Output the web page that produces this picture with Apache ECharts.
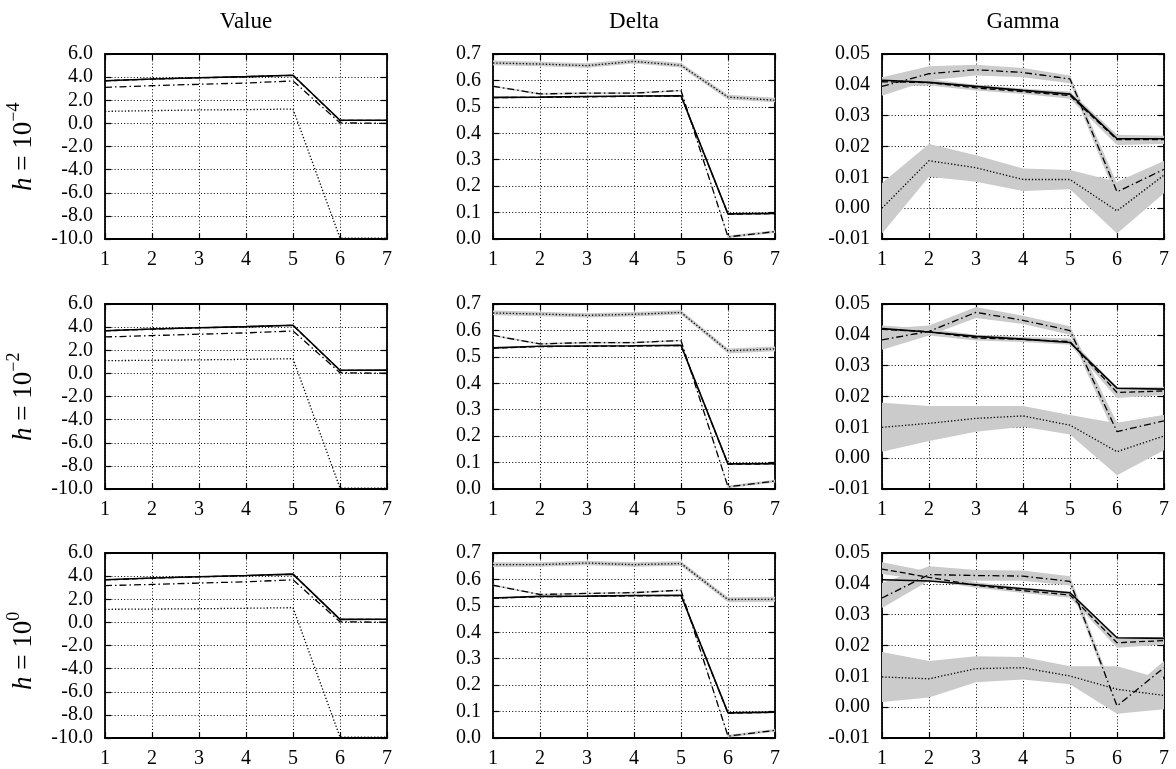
<!DOCTYPE html>
<html><head><meta charset="utf-8">
<script src="https://cdn.jsdelivr.net/npm/echarts@6/dist/echarts.min.js"></script>
<style>html,body{margin:0;padding:0;background:#fff}#c{width:1176px;height:769px}</style>
</head><body><div id="c"></div><script>
// ---------- DATA ----------
const xValues = [1, 2, 3, 4, 5, 6, 7];
const xTickLabels = ['1', '2', '3', '4', '5', '6', '7'];
const colTitles = ['Value', 'Delta', 'Gamma'];
const rowExponents = ['\u22124', '\u22122', '0'];

// Value
const valueSolid = [
  [3.69, 3.84, 3.95, 4.04, 4.16, 0.27, 0.27],
  [3.69, 3.84, 3.95, 4.04, 4.16, 0.27, 0.28],
  [3.68, 3.84, 3.95, 4.05, 4.17, 0.26, 0.27]
];
const valueDashed = [
  [3.68, 3.83, 3.94, 4.03, 4.15, 0.25, 0.26],
  [3.68, 3.83, 3.94, 4.03, 4.15, 0.25, 0.26],
  [3.67, 3.83, 3.94, 4.04, 4.16, 0.25, 0.26]
];
const valueDashDot = [
  [3.12, 3.26, 3.38, 3.49, 3.67, 0.05, 0.00],
  [3.15, 3.27, 3.39, 3.50, 3.67, 0.06, 0.01],
  [3.18, 3.28, 3.40, 3.51, 3.68, 0.05, 0.02]
];
const valueDotted = [
  [1.04, 1.10, 1.16, 1.19, 1.24, -9.92, -9.92],
  [1.10, 1.13, 1.17, 1.21, 1.27, -9.92, -9.92],
  [1.13, 1.15, 1.18, 1.22, 1.27, -9.92, -9.92]
];

// Delta
const deltaSolid = [
  [0.536, 0.537, 0.539, 0.541, 0.542, 0.095, 0.097],
  [0.534, 0.540, 0.541, 0.542, 0.544, 0.095, 0.096],
  [0.530, 0.536, 0.537, 0.539, 0.540, 0.095, 0.098]
];
const deltaDashed = [
  [0.535, 0.536, 0.538, 0.540, 0.541, 0.094, 0.096],
  [0.533, 0.539, 0.540, 0.541, 0.543, 0.094, 0.095],
  [0.529, 0.535, 0.536, 0.538, 0.539, 0.094, 0.097]
];
const deltaDashDot = [
  [0.578, 0.549, 0.552, 0.552, 0.562, 0.008, 0.028],
  [0.581, 0.549, 0.554, 0.554, 0.562, 0.008, 0.030],
  [0.578, 0.543, 0.547, 0.550, 0.559, 0.007, 0.029]
];
const deltaDashDotLo = [
  [0.575, 0.546, 0.549, 0.549, 0.559, 0.003, 0.023],
  [0.578, 0.546, 0.551, 0.551, 0.559, 0.003, 0.025],
  [0.575, 0.540, 0.544, 0.547, 0.556, 0.002, 0.024]
];
const deltaDashDotHi = [
  [0.581, 0.552, 0.555, 0.555, 0.565, 0.013, 0.033],
  [0.584, 0.552, 0.557, 0.557, 0.565, 0.013, 0.035],
  [0.581, 0.546, 0.550, 0.553, 0.562, 0.012, 0.034]
];
const deltaDotted = [
  [0.666, 0.662, 0.656, 0.672, 0.657, 0.537, 0.525],
  [0.666, 0.662, 0.657, 0.661, 0.668, 0.523, 0.530],
  [0.656, 0.656, 0.662, 0.656, 0.660, 0.524, 0.525]
];
const deltaDottedLo = [
  [0.657, 0.654, 0.648, 0.664, 0.649, 0.528, 0.517],
  [0.657, 0.654, 0.649, 0.653, 0.660, 0.513, 0.521],
  [0.647, 0.648, 0.654, 0.648, 0.652, 0.514, 0.516]
];
const deltaDottedHi = [
  [0.675, 0.671, 0.665, 0.681, 0.666, 0.546, 0.534],
  [0.675, 0.671, 0.665, 0.670, 0.676, 0.532, 0.539],
  [0.665, 0.665, 0.671, 0.665, 0.669, 0.533, 0.534]
];

// Gamma
const gammaSolid = [
  [0.0415, 0.0408, 0.0395, 0.0382, 0.0370, 0.0225, 0.0225],
  [0.0420, 0.0409, 0.0395, 0.0386, 0.0375, 0.0227, 0.0224],
  [0.0413, 0.0409, 0.0397, 0.0384, 0.0371, 0.0225, 0.0223]
];
const gammaDashed = [
  [0.0410, 0.0407, 0.0390, 0.0378, 0.0365, 0.0222, 0.0222],
  [0.0418, 0.0410, 0.0390, 0.0385, 0.0378, 0.0213, 0.0218],
  [0.0448, 0.0421, 0.0395, 0.0378, 0.0364, 0.0209, 0.0216]
];
const gammaDashedLo = [
  [0.0395, 0.0398, 0.0382, 0.0370, 0.0355, 0.0205, 0.0208],
  [0.0405, 0.0398, 0.0382, 0.0377, 0.0368, 0.0195, 0.0205],
  [0.0432, 0.0410, 0.0387, 0.0370, 0.0355, 0.0193, 0.0203]
];
const gammaDashedHi = [
  [0.0425, 0.0418, 0.0400, 0.0388, 0.0378, 0.0238, 0.0235],
  [0.0430, 0.0420, 0.0400, 0.0393, 0.0388, 0.0230, 0.0232],
  [0.0470, 0.0440, 0.0405, 0.0388, 0.0375, 0.0225, 0.0228]
];
const gammaDashDot = [
  [0.0395, 0.0436, 0.0449, 0.0440, 0.0419, 0.0053, 0.0126],
  [0.0384, 0.0411, 0.0473, 0.0447, 0.0414, 0.0086, 0.0121],
  [0.0354, 0.0430, 0.0427, 0.0425, 0.0408, 0.0004, 0.0128]
];
const gammaDashDotLo = [
  [0.0365, 0.0415, 0.0430, 0.0425, 0.0405, 0.0030, 0.0110],
  [0.0352, 0.0398, 0.0455, 0.0435, 0.0400, 0.0060, 0.0100],
  [0.0322, 0.0410, 0.0410, 0.0410, 0.0395, -0.0010, 0.0100]
];
const gammaDashDotHi = [
  [0.0425, 0.0460, 0.0465, 0.0455, 0.0430, 0.0080, 0.0145],
  [0.0420, 0.0430, 0.0490, 0.0462, 0.0428, 0.0115, 0.0140],
  [0.0403, 0.0457, 0.0445, 0.0443, 0.0425, 0.0020, 0.0150]
];
const gammaDotted = [
  [0.0000, 0.0154, 0.0131, 0.0093, 0.0093, -0.0009, 0.0107],
  [0.0100, 0.0113, 0.0129, 0.0137, 0.0107, 0.0021, 0.0072],
  [0.0098, 0.0092, 0.0125, 0.0128, 0.0101, 0.0058, 0.0038]
];
const gammaDottedLo = [
  [-0.0082, 0.0102, 0.0086, 0.0056, 0.0061, -0.0082, 0.0048],
  [0.0021, 0.0056, 0.0086, 0.0102, 0.0077, -0.0055, 0.0026],
  [0.0017, 0.0031, 0.0081, 0.0090, 0.0074, -0.0021, -0.0007]
];
const gammaDottedHi = [
  [0.0082, 0.0208, 0.0172, 0.0129, 0.0124, 0.0086, 0.0153],
  [0.0180, 0.0169, 0.0169, 0.0169, 0.0140, 0.0113, 0.0140],
  [0.0179, 0.0150, 0.0165, 0.0163, 0.0133, 0.0133, 0.0090]
];

const valueTicks = { min: -10, max: 6, interval: 2, decimals: 1 };
const deltaTicks = { min: 0, max: 0.7, interval: 0.1, decimals: 1 };
const gammaTicks = { min: -0.01, max: 0.05, interval: 0.01, decimals: 2 };

// ---------- LAYOUT / STYLE ----------
const FONT = "'Liberation Serif', 'Times New Roman', serif";
const BAND = '#cbcbcb';
const gridLefts = [105, 493, 882];
const gridTops = [54, 304, 553];
const gridW = 282, gridH = 185;

const metrics = [
  { ticks: valueTicks, solid: valueSolid, dashed: valueDashed, dashdot: valueDashDot, dotted: valueDotted, bands: [] },
  { ticks: deltaTicks, solid: deltaSolid, dashed: deltaDashed, dashdot: deltaDashDot, dotted: deltaDotted,
    bands: [[deltaDashDotLo, deltaDashDotHi], [deltaDottedLo, deltaDottedHi]] },
  { ticks: gammaTicks, solid: gammaSolid, dashed: gammaDashed, dashdot: gammaDashDot, dotted: gammaDotted,
    bands: [[gammaDashedLo, gammaDashedHi], [gammaDashDotLo, gammaDashDotHi], [gammaDottedLo, gammaDottedHi]] }
];

const grids = [], xAxes = [], yAxes = [], series = [], graphics = [];
const axisLine = { show: true, onZero: false, lineStyle: { color: '#000', width: 1.8 } };
const tick = { show: true, inside: true, length: 6, lineStyle: { color: '#000', width: 1.2 } };
const split = { show: true, lineStyle: { color: '#000', width: 1, type: [1, 2.2] } };

for (let r = 0; r < 3; r++) {
  for (let c = 0; c < 3; c++) {
    const idx = r * 3 + c;
    const m = metrics[c];
    grids.push({ left: gridLefts[c], top: gridTops[r], width: gridW, height: gridH, containLabel: false });
    xAxes.push({
      type: 'value', gridIndex: idx, min: 1, max: 7, interval: 1, position: 'bottom',
      axisLine, axisTick: tick, splitLine: split,
      axisLabel: { color: '#000', fontFamily: FONT, fontSize: 20, margin: 11,
        formatter: v => xTickLabels[Math.round(v) - 1] }
    });
    xAxes.push({
      type: 'value', gridIndex: idx, min: 1, max: 7, interval: 1, position: 'top',
      axisLine, axisTick: tick, splitLine: { show: false }, axisLabel: { show: false }
    });
    yAxes.push({
      type: 'value', gridIndex: idx, min: m.ticks.min, max: m.ticks.max, interval: m.ticks.interval, position: 'left',
      axisLine, axisTick: tick, splitLine: split,
      axisLabel: { color: '#000', fontFamily: FONT, fontSize: 20, margin: 12,
        formatter: v => v.toFixed(m.ticks.decimals) }
    });
    yAxes.push({
      type: 'value', gridIndex: idx, min: m.ticks.min, max: m.ticks.max, interval: m.ticks.interval, position: 'right',
      axisLine, axisTick: tick, splitLine: { show: false }, axisLabel: { show: false }
    });
    const xi = 2 * idx, yi = 2 * idx;
    m.bands.forEach(([lo, hi]) => {
      const L = lo[r], H = hi[r];
      series.push({
        type: 'custom', xAxisIndex: xi, yAxisIndex: yi, silent: true, z: 1,
        data: [[xValues[0], L[0]]],
        renderItem: (params, api) => {
          const pts = [];
          for (let i = 0; i < xValues.length; i++) pts.push(api.coord([xValues[i], H[i]]));
          for (let i = xValues.length - 1; i >= 0; i--) pts.push(api.coord([xValues[i], L[i]]));
          return { type: 'polygon', shape: { points: pts }, style: { fill: BAND } };
        }
      });
    });
    const mk = (arr, type, width) => ({
      type: 'line', xAxisIndex: xi, yAxisIndex: yi, silent: true, z: 3, symbol: 'none', clip: true,
      data: xValues.map((x, i) => [x, arr[r][i]]),
      lineStyle: { color: '#000', width, type }
    });
    series.push(mk(m.dotted, [1.3, 2], 1.3));
    series.push(mk(m.dashdot, [7, 3, 1.5, 3], 1.3));
    series.push(mk(m.dashed, [6, 3], 1.3));
    series.push(mk(m.solid, 'solid', 1.6));
  }
}

colTitles.forEach((t, c) => {
  graphics.push({ type: 'text', x: gridLefts[c] + gridW / 2, y: 22,
    style: { text: t, fontFamily: FONT, fontSize: 23, fill: '#000', align: 'center', verticalAlign: 'middle' } });
});
rowExponents.forEach((e, r) => {
  graphics.push({ type: 'text', x: 24, y: gridTops[r] + 137, rotation: Math.PI / 2,
    style: {
      text: '{i|h}{m| = 10}{s|' + e + '}',
      align: 'left', verticalAlign: 'middle', fill: '#000',
      rich: {
        i: { fontFamily: FONT, fontSize: 27, fontStyle: 'italic', lineHeight: 38, fill: '#000' },
        m: { fontFamily: FONT, fontSize: 27, lineHeight: 38, fill: '#000' },
        s: { fontFamily: FONT, fontSize: 18, verticalAlign: 'top', fill: '#000' }
      }
    } });
});

const chart = echarts.init(document.getElementById('c'), null, { renderer: 'canvas' });
chart.setOption({
  animation: false, backgroundColor: '#fff',
  grid: grids, xAxis: xAxes, yAxis: yAxes, series, graphic: graphics
});
</script></body></html>
